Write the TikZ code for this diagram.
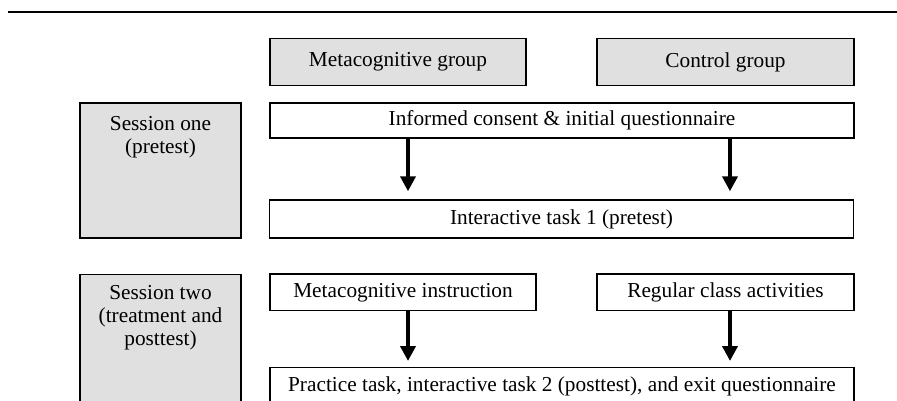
\documentclass[tikz,border=0pt]{standalone}
\usepackage{fontspec}
\setmainfont{Liberation Serif}
\usetikzlibrary{arrows.meta}
\definecolor{boxgray}{HTML}{E0E0E0}
\begin{document}
\begin{tikzpicture}[x=1pt,y=-1pt,
  txt/.style={font=\fontsize{21.3}{22.8}\selectfont},
  box/.style={draw=black, line width=1.4pt, inner sep=0pt, txt},
  greybox/.style={box, fill=boxgray},
  flow/.style={line width=4.8pt, -{Triangle[width=15pt,length=15pt]}},
  rulebar/.style={line width=2.8pt}]
\useasboundingbox (0,0) rectangle (897,401);
\clip (0,0) rectangle (897,401);
% top rule
\coordinate (ruleL) at (8,12);
\coordinate (ruleR) at (897,12);
\draw[rulebar] (ruleL) -- (ruleR);
% group headers
\node[greybox, minimum width=256pt, minimum height=47pt] (mgroup) at (398,62) {Metacognitive group};
\node[greybox, minimum width=257pt, minimum height=47pt] (cgroup) at (725.5,62) {Control group};
% session one
\node[greybox, minimum width=161pt, minimum height=135pt] (s1) at (160.5,170.5) {};
\node[txt, anchor=north, align=center, inner sep=0pt] (s1t) at ([yshift=-13.6pt]s1.north) {Session one\\(pretest)};
\node[box, fill=white, minimum width=584pt, minimum height=35pt] (informed) at (562,120.5) {Informed consent \& initial questionnaire};
\node[box, fill=white, minimum width=584pt, minimum height=38pt] (task1) at (561.5,219) {Interactive task 1 (pretest)};
% session two
\node[greybox, minimum width=161pt, minimum height=170pt, anchor=north] (s2) at (160.5,274) {};
\node[txt, anchor=north, align=center, inner sep=0pt] (s2t) at ([yshift=-11.6pt]s2.north) {Session two\\(treatment and\\posttest)};
\node[box, fill=white, minimum width=266pt, minimum height=36.5pt] (minstr) at (403,292.3) {Metacognitive instruction};
\node[box, fill=white, minimum width=257pt, minimum height=36.5pt] (regular) at (725.5,292.3) {Regular class activities};
\node[box, fill=white, minimum width=584pt, minimum height=38pt, anchor=north] (practice) at (562,367) {Practice task, interactive task 2 (posttest), and exit questionnaire};
% arrows
\coordinate (colA) at (408,0);
\coordinate (colB) at (730,0);
\draw[flow, shorten >=8pt] (informed.south -| colA) -- (task1.north -| colA);
\draw[flow, shorten >=8pt] (informed.south -| colB) -- (task1.north -| colB);
\draw[flow, shorten >=6pt] (minstr.south -| colA) -- (practice.north -| colA);
\draw[flow, shorten >=6pt] (regular.south -| colB) -- (practice.north -| colB);
\end{tikzpicture}
\end{document}
